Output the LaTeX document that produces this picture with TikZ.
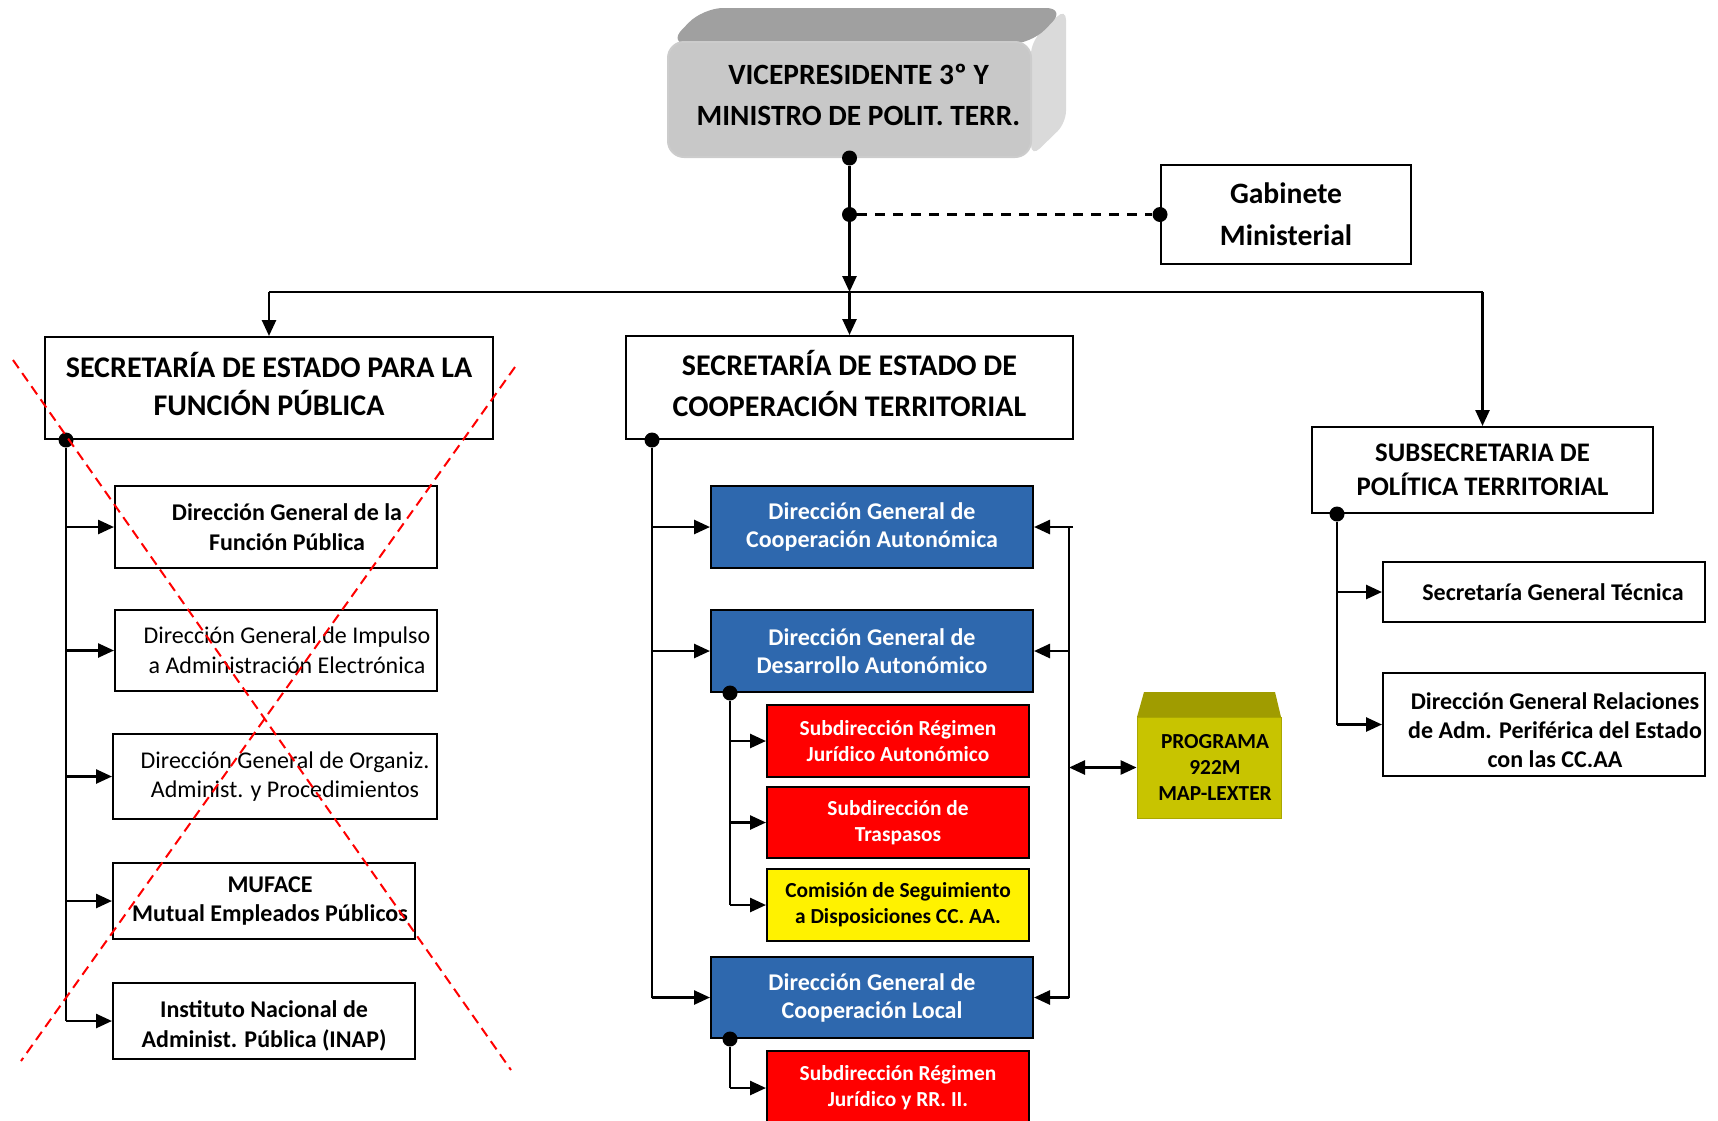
\documentclass[tikz,border=0pt]{standalone}
\usepackage{fontspec}
\setmainfont{Carlito}
\usetikzlibrary{positioning, arrows.meta, shapes}

\definecolor{dgblue}{HTML}{2E68AE}
\definecolor{vpfront}{HTML}{C8C8C8}
\definecolor{vptop}{HTML}{A0A0A0}
\definecolor{vpside}{HTML}{DADADA}
\definecolor{progfront}{HTML}{C8C400}
\definecolor{progtop}{HTML}{A09C00}

% text in these boxes sits a little right of centre
\newcommand{\pad}[1]{\hspace*{#1pt}}

\begin{document}
\begin{tikzpicture}[
    x=0.5pt, y=-0.5pt,
    >={Triangle[length=8pt, width=7pt]},
    boxsize/.style 2 args={minimum width=#1*0.5pt, minimum height=#2*0.5pt},
    box/.style={rectangle, draw, line width=1pt, align=center, inner sep=0pt},
    head/.style={box, font=\fontsize{15}{19}\selectfont\bfseries},
    unit/.style={box, font=\fontsize{12}{14.8}\selectfont\bfseries},
    plainunit/.style={box, font=\fontsize{12}{14.8}\selectfont},
    dgbox/.style={box, fill=dgblue, text=white, font=\fontsize{12}{14}\selectfont\bfseries},
    subbox/.style={box, fill=red, text=white, font=\fontsize{10.7}{13}\selectfont\bfseries},
    combox/.style={box, fill=yellow, font=\fontsize{10.7}{13}\selectfont\bfseries},
    dot/.style={circle, fill, inner sep=0pt, minimum size=7.5pt},
    link/.style={line width=1.3pt},
    arrow/.style={->, line width=1.3pt},
    cross/.style={red, line width=1pt, dash pattern=on 5pt off 3pt}
]
\clip (0,0) rectangle (1718,1120);

% minister, drawn as a block
\fill[vpside, rounded corners=6pt] (1031,42) -- (1066,8) -- (1066,123) -- (1031,157) -- cycle;
\fill[vptop, rounded corners=10pt] (668,44) -- (703,8) -- (1066,8) -- (1031,44) -- cycle;
\node[box, draw=black!20, fill=vpfront, rounded corners=8pt, boxsize={363}{115},
      font=\fontsize{14.7}{20.5}\selectfont\bfseries] (vp) at (849.5,99.5)
      {\pad{9}VICEPRESIDENTE 3º Y\\\pad{9}MINISTRO DE POLIT. TERR.\rule[-4.5pt]{0pt}{0pt}};

\node[head, boxsize={250}{99}, font=\fontsize{14.8}{21}\selectfont\bfseries] (gab) at (1286,214.5) {Gabinete\\Ministerial};

\node[head, boxsize={448}{102}] (sefp) at (269,388) {SECRETARÍA DE ESTADO PARA LA\\FUNCIÓN PÚBLICA\rule[-4.5pt]{0pt}{0pt}};
\node[head, boxsize={447}{103}, font=\fontsize{15}{20.5}\selectfont\bfseries] (seco) at (849.5,387.5) {SECRETARÍA DE ESTADO DE\\COOPERACIÓN TERRITORIAL\rule[-4.5pt]{0pt}{0pt}};
\node[head, boxsize={341}{86}, font=\fontsize{13.4}{17}\selectfont\bfseries] (subs) at (1482.5,470) {SUBSECRETARIA DE\\POLÍTICA TERRITORIAL};

% funcion publica
\node[unit, boxsize={322}{82}] (dgfp) at (276,527) {\pad{11}Dirección General de la\\\pad{11}Función Pública};
\node[plainunit, boxsize={322}{81}] (dgia) at (276,650.5) {\pad{11}Dirección General de Impulso\\\pad{11}a Administración Electrónica};
\node[plainunit, boxsize={324}{85}] (dgoa) at (275,776.5) {\pad{10}Dirección General de Organiz.\\\pad{10}Administ. y Procedimientos};
\node[unit, boxsize={302}{76}] (muf) at (264,901) {\pad{6}MUFACE\\\pad{6}Mutual Empleados Públicos};
\node[unit, boxsize={302}{76}] (inap) at (264,1021) {\rule{0pt}{13pt}Instituto Nacional de\\Administ. Pública (INAP)};

% cooperacion territorial
\node[dgbox, boxsize={322}{82}] (dgca) at (872,527) {Dirección General de\\Cooperación Autonómica};
\node[dgbox, boxsize={322}{82}] (dgda) at (872,651) {Dirección General de\\Desarrollo Autonómico};
\node[subbox, boxsize={262}{72}] (srja) at (898,741) {Subdirección Régimen\\Jurídico Autonómico};
\node[subbox, boxsize={262}{71}] (stra) at (898,822.5) {Subdirección de\\Traspasos};
\node[combox, boxsize={262}{72}] (csd) at (898,905) {Comisión de Seguimiento\\a Disposiciones CC. AA.};
\node[dgbox, boxsize={322}{81}] (dgcl) at (872,997.5) {Dirección General de\\Cooperación Local};
\node[subbox, boxsize={262}{74}] (srjr) at (898,1088) {Subdirección Régimen\\Jurídico y RR. II.};

\fill[progtop] (1137,717) -- (1144,692) -- (1275,692) -- (1281,717) -- cycle;
\node[box, draw=progfront!85!black, line width=0.4pt, fill=progfront, boxsize={144}{101},
      font=\fontsize{10.7}{13}\selectfont\bfseries] (prog) at (1209,767.5) {\pad{6}PROGRAMA\\\pad{6}922M\\\pad{6}MAP-LEXTER};

% politica territorial
\node[unit, boxsize={322}{60}] (sgt) at (1544,592) {\pad{9}Secretaría General Técnica};
\node[unit, boxsize={322}{103}, font=\fontsize{12}{14.5}\selectfont\bfseries] (dgr) at (1544,724.5)
      {\rule{0pt}{14.5pt}\pad{11}Dirección General Relaciones\\\pad{11}de Adm. Periférica del Estado\\\pad{11}con las CC.AA};

% top level
\coordinate (barL) at (269,292);
\coordinate (barR) at (1482.5,292);
\coordinate (barC) at (vp.south |- barL);
\node[dot] (vpdot) at (vp.south) {};
\node[dot] (gabdot) at (vp.south |- gab.west) {};
\node[dot] (gabend) at (gab.west) {};
\draw[arrow] (vpdot) -- (barC);
\draw[link, dashed, dash pattern=on 5pt off 4pt] (gabdot) -- (gabend);
\draw[link] (barL) -- (barR);
\draw[arrow] (barL) -- (sefp.north);
\draw[arrow] (barC) -- (seco.north);
\draw[arrow] (barR) -- (subs.north);

% branch: funcion publica
\node[dot] (sefpdot) at ([xshift=11pt]sefp.south west) {};
\draw[link] (sefpdot) -- (sefpdot |- inap.west);
\draw[arrow] (sefpdot |- dgfp.west) -- (dgfp.west);
\draw[arrow] (sefpdot |- dgia.west) -- (dgia.west);
\draw[arrow] (sefpdot |- dgoa.west) -- (dgoa.west);
\draw[arrow] (sefpdot |- muf.west) -- (muf.west);
\draw[arrow] (sefpdot |- inap.west) -- (inap.west);

% branch: cooperacion territorial
\node[dot] (secodot) at ([xshift=13.5pt]seco.south west) {};
\draw[link] (secodot) -- (secodot |- dgcl.west);
\draw[arrow] (secodot |- dgca.west) -- (dgca.west);
\draw[arrow] (secodot |- dgda.west) -- (dgda.west);
\draw[arrow] (secodot |- dgcl.west) -- (dgcl.west);

\node[dot] (dgdadot) at ([xshift=10pt]dgda.south west) {};
\draw[link] (dgdadot) -- (dgdadot |- csd.west);
\draw[arrow] (dgdadot |- srja.west) -- (srja.west);
\draw[arrow] (dgdadot |- stra.west) -- (stra.west);
\draw[arrow] (dgdadot |- csd.west) -- (csd.west);

\node[dot] (dgcldot) at ([xshift=10pt]dgcl.south west) {};
\draw[link] (dgcldot) -- (dgcldot |- srjr.west);
\draw[arrow] (dgcldot |- srjr.west) -- (srjr.west);

% programa rail
\coordinate (rail) at (1069,0);
\draw[link] ([xshift=2pt]rail |- dgca.east) -- (rail |- dgca.east) -- (rail |- dgcl.east);
\draw[arrow] (rail |- dgca.east) -- (dgca.east);
\draw[arrow] (rail |- dgda.east) -- (dgda.east);
\draw[arrow] (rail |- dgcl.east) -- (dgcl.east);
\draw[arrow, <->] (rail |- prog.west) -- (prog.west);

% branch: politica territorial
\node[dot] (subsdot) at ([xshift=13pt]subs.south west) {};
\draw[link] (subsdot) -- (subsdot |- dgr.west);
\draw[arrow] (subsdot |- sgt.west) -- (sgt.west);
\draw[arrow] (subsdot |- dgr.west) -- (dgr.west);

% crossed out
\draw[cross] (13,360) -- (511,1070);
\draw[cross] (515,367) -- (21,1061);

\end{tikzpicture}
\end{document}
